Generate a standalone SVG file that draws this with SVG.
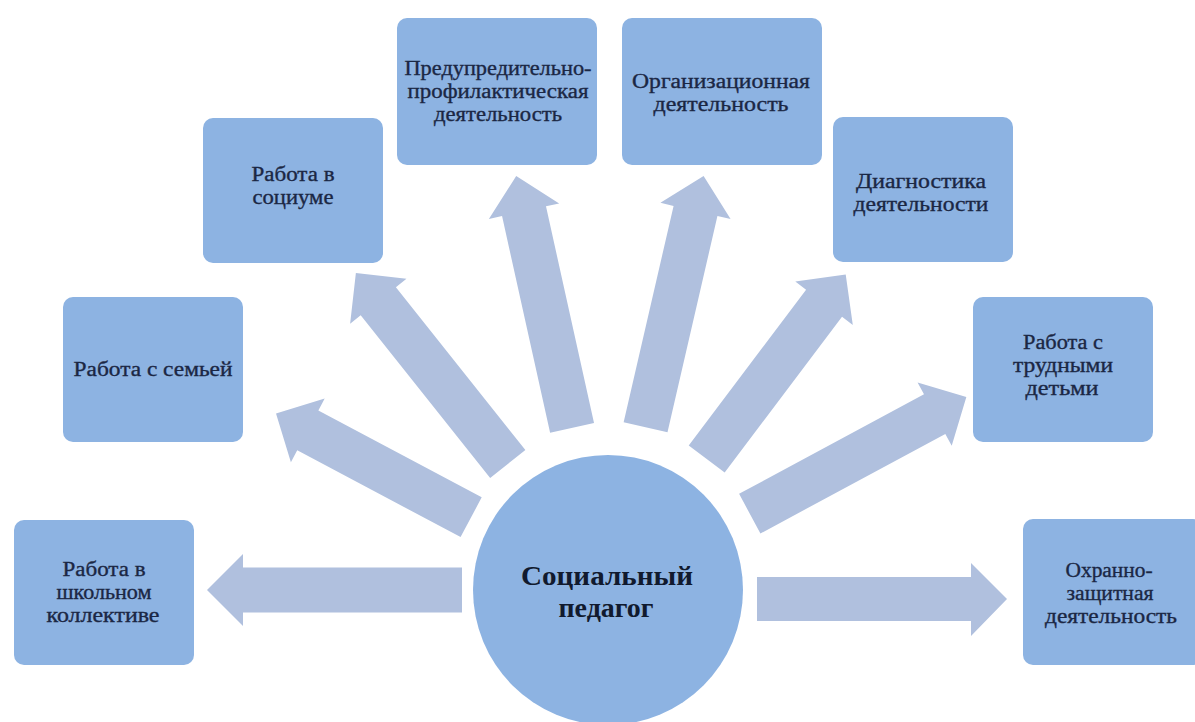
<svg xmlns="http://www.w3.org/2000/svg" width="1195" height="722" viewBox="0 0 1195 722">
<style>
.box{fill:#8DB3E2}
.arrow{fill:#B0C0DE}
.lbl{font-family:"Liberation Serif","DejaVu Serif","Times New Roman",serif;font-size:20.5px;fill:#1B2744;stroke:#1B2744;stroke-width:0.35px;text-anchor:middle}
.ctr{font-family:"Liberation Serif","DejaVu Serif","Times New Roman",serif;font-size:27px;font-weight:bold;fill:#111A2E;text-anchor:middle}
</style>
<rect width="1195" height="722" fill="#FFFFFF"/>
<g id="connectors">
<polygon class="arrow" points="462,567.5 243,567.5 243,554 207,590 243,626 243,612.5 462,612.5"/>
<g transform="translate(608 590) rotate(-152)"><polygon class="arrow" points="155,-22.5 340,-22.5 340,-36 376,0 340,36 340,22.5 155,22.5"/></g>
<g transform="translate(608 590) rotate(-128.5)"><polygon class="arrow" points="161,-22.5 369,-22.5 369,-36 405,0 369,36 369,22.5 161,22.5"/></g>
<g transform="translate(608 590) rotate(-102.5)"><polygon class="arrow" points="166,-22.5 388,-22.5 388,-36 424,0 388,36 388,22.5 166,22.5"/></g>
<g transform="translate(608 590) rotate(-77)"><polygon class="arrow" points="167,-22.5 389,-22.5 389,-36 425,0 389,36 389,22.5 167,22.5"/></g>
<g transform="translate(608 590) rotate(-53)"><polygon class="arrow" points="164,-22.5 359,-22.5 359,-36 395,0 359,36 359,22.5 164,22.5"/></g>
<g transform="translate(608 590) rotate(-28.3)"><polygon class="arrow" points="161,-22.5 371,-22.5 371,-36 407,0 371,36 371,22.5 161,22.5"/></g>
<polygon class="arrow" points="757,577 971,577 971,563 1007,599 971,636 971,621 757,621"/>
</g>
<g id="center">
<circle cx="608" cy="590" r="135" fill="#8DB3E2"/>
<text class="ctr" x="607" y="585" textLength="172" lengthAdjust="spacingAndGlyphs">Социальный</text>
<text class="ctr" x="606" y="617" textLength="95" lengthAdjust="spacingAndGlyphs">педагог</text>
</g>
<g id="n1">
<rect class="box" x="14" y="520" width="180" height="145" rx="10"/>
<text class="lbl" x="104" y="576" textLength="83" lengthAdjust="spacingAndGlyphs">Работа в</text>
<text class="lbl" x="104" y="599" textLength="95" lengthAdjust="spacingAndGlyphs">школьном</text>
<text class="lbl" x="103" y="622" textLength="113" lengthAdjust="spacingAndGlyphs">коллективе</text>
</g>
<g id="n2">
<rect class="box" x="63" y="297" width="180" height="145" rx="10"/>
<text class="lbl" x="153" y="376" textLength="159" lengthAdjust="spacingAndGlyphs">Работа с семьей</text>
</g>
<g id="n3">
<rect class="box" x="203" y="118" width="180" height="145" rx="10"/>
<text class="lbl" x="293" y="181" textLength="83" lengthAdjust="spacingAndGlyphs">Работа в</text>
<text class="lbl" x="293" y="204" textLength="81" lengthAdjust="spacingAndGlyphs">социуме</text>
</g>
<g id="n4">
<rect class="box" x="397" y="18" width="200" height="147" rx="10"/>
<text class="lbl" x="498" y="75" textLength="187" lengthAdjust="spacingAndGlyphs">Предупредительно-</text>
<text class="lbl" x="498" y="98" textLength="181" lengthAdjust="spacingAndGlyphs">профилактическая</text>
<text class="lbl" x="498" y="121" textLength="128" lengthAdjust="spacingAndGlyphs">деятельность</text>
</g>
<g id="n5">
<rect class="box" x="622" y="18" width="200" height="147" rx="10"/>
<text class="lbl" x="721" y="88" textLength="178" lengthAdjust="spacingAndGlyphs">Организационная</text>
<text class="lbl" x="721" y="111" textLength="135" lengthAdjust="spacingAndGlyphs">деятельность</text>
</g>
<g id="n6">
<rect class="box" x="833" y="117" width="180" height="145" rx="10"/>
<text class="lbl" x="921" y="188" textLength="130" lengthAdjust="spacingAndGlyphs">Диагностика</text>
<text class="lbl" x="921" y="211" textLength="135" lengthAdjust="spacingAndGlyphs">деятельности</text>
</g>
<g id="n7">
<rect class="box" x="973" y="297" width="180" height="145" rx="10"/>
<text class="lbl" x="1063" y="349" textLength="80" lengthAdjust="spacingAndGlyphs">Работа с</text>
<text class="lbl" x="1063" y="372" textLength="100" lengthAdjust="spacingAndGlyphs">трудными</text>
<text class="lbl" x="1062" y="395" textLength="73" lengthAdjust="spacingAndGlyphs">детьми</text>
</g>
<g id="n8">
<rect class="box" x="1023" y="519" width="180" height="146" rx="10"/>
<text class="lbl" x="1109" y="577" textLength="87" lengthAdjust="spacingAndGlyphs">Охранно-</text>
<text class="lbl" x="1110" y="600" textLength="87" lengthAdjust="spacingAndGlyphs">защитная</text>
<text class="lbl" x="1111" y="623" textLength="132" lengthAdjust="spacingAndGlyphs">деятельность</text>
</g>
</svg>
